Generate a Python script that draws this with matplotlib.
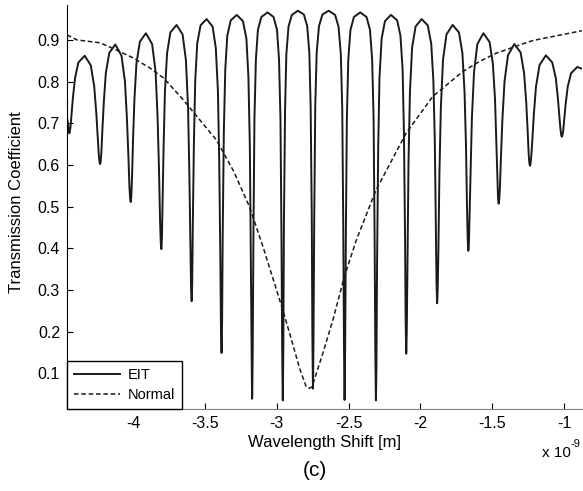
import matplotlib
matplotlib.use("Agg")
import matplotlib.pyplot as plt

# EIT transmission (x in units of 1e-9 m), one line per fringe
eit_x = [
    -4.459, -4.452,
    -4.444, -4.443, -4.440, -4.435, -4.428, -4.418, -4.403, -4.380, -4.336, -4.294, -4.270, -4.255, -4.245, -4.238, -4.233, -4.230,
    -4.229, -4.228, -4.225, -4.220, -4.213, -4.203, -4.189, -4.165, -4.123, -4.080, -4.056, -4.042, -4.032, -4.025, -4.020, -4.017,
    -4.016, -4.015, -4.012, -4.007, -4.000, -3.990, -3.976, -3.952, -3.910, -3.867, -3.843, -3.829, -3.819, -3.812, -3.807, -3.804,
    -3.803, -3.802, -3.799, -3.795, -3.787, -3.778, -3.763, -3.740, -3.697, -3.655, -3.632, -3.617, -3.608, -3.600, -3.596, -3.593,
    -3.592, -3.591, -3.588, -3.584, -3.576, -3.567, -3.553, -3.530, -3.488, -3.446, -3.424, -3.409, -3.400, -3.392, -3.388, -3.385,
    -3.384, -3.383, -3.380, -3.376, -3.368, -3.358, -3.344, -3.320, -3.278, -3.235, -3.211, -3.197, -3.187, -3.180, -3.175, -3.172,
    -3.171, -3.170, -3.167, -3.162, -3.155, -3.145, -3.131, -3.107, -3.064, -3.022, -2.998, -2.984, -2.974, -2.967, -2.962, -2.959,
    -2.958, -2.957, -2.954, -2.950, -2.942, -2.933, -2.918, -2.895, -2.853, -2.811, -2.788, -2.773, -2.764, -2.756, -2.752, -2.749,
    -2.748, -2.747, -2.744, -2.739, -2.732, -2.722, -2.706, -2.682, -2.638, -2.594, -2.570, -2.554, -2.544, -2.537, -2.532, -2.529,
    -2.528, -2.527, -2.524, -2.519, -2.512, -2.502, -2.487, -2.463, -2.419, -2.375, -2.351, -2.336, -2.326, -2.319, -2.314, -2.311,
    -2.310, -2.309, -2.306, -2.302, -2.294, -2.285, -2.270, -2.247, -2.205, -2.162, -2.139, -2.124, -2.115, -2.107, -2.103, -2.100,
    -2.099, -2.098, -2.095, -2.090, -2.083, -2.073, -2.058, -2.034, -1.992, -1.949, -1.925, -1.910, -1.900, -1.893, -1.888, -1.885,
    -1.884, -1.883, -1.880, -1.875, -1.868, -1.858, -1.843, -1.819, -1.776, -1.732, -1.708, -1.693, -1.683, -1.676, -1.671, -1.668,
    -1.667, -1.666, -1.663, -1.659, -1.651, -1.642, -1.627, -1.604, -1.562, -1.519, -1.496, -1.481, -1.472, -1.464, -1.460, -1.457,
    -1.456, -1.455, -1.452, -1.447, -1.440, -1.430, -1.415, -1.391, -1.347, -1.303, -1.279, -1.264, -1.254, -1.247, -1.242, -1.239,
    -1.238, -1.237, -1.234, -1.229, -1.221, -1.211, -1.196, -1.171, -1.127, -1.083, -1.058, -1.043, -1.033, -1.025, -1.020, -1.017,
    -1.016, -1.015, -1.012, -1.007, -1.000, -0.990, -0.975, -0.952, -0.909, -0.877,
]
eit_y = [
    0.715, 0.697,
    0.676, 0.676, 0.679, 0.691, 0.721, 0.762, 0.809, 0.846, 0.862, 0.839, 0.789, 0.722, 0.665, 0.623, 0.607, 0.603,
    0.602, 0.603, 0.608, 0.631, 0.685, 0.752, 0.821, 0.869, 0.889, 0.862, 0.800, 0.709, 0.620, 0.549, 0.519, 0.512,
    0.511, 0.512, 0.524, 0.567, 0.659, 0.758, 0.844, 0.896, 0.916, 0.890, 0.824, 0.714, 0.587, 0.469, 0.414, 0.400,
    0.398, 0.401, 0.423, 0.502, 0.647, 0.775, 0.868, 0.918, 0.936, 0.913, 0.852, 0.738, 0.580, 0.401, 0.303, 0.277,
    0.273, 0.278, 0.319, 0.455, 0.659, 0.803, 0.892, 0.935, 0.950, 0.932, 0.881, 0.776, 0.606, 0.364, 0.204, 0.155,
    0.149, 0.158, 0.227, 0.429, 0.681, 0.829, 0.910, 0.947, 0.960, 0.945, 0.903, 0.811, 0.643, 0.357, 0.127, 0.050,
    0.039, 0.054, 0.158, 0.431, 0.712, 0.853, 0.924, 0.955, 0.966, 0.955, 0.924, 0.853, 0.711, 0.429, 0.155, 0.050,
    0.035, 0.052, 0.166, 0.455, 0.733, 0.866, 0.932, 0.960, 0.970, 0.961, 0.933, 0.869, 0.740, 0.470, 0.190, 0.079,
    0.063, 0.079, 0.190, 0.470, 0.740, 0.869, 0.933, 0.961, 0.970, 0.960, 0.932, 0.866, 0.733, 0.455, 0.167, 0.053,
    0.036, 0.051, 0.155, 0.430, 0.711, 0.853, 0.924, 0.955, 0.966, 0.955, 0.924, 0.853, 0.711, 0.429, 0.155, 0.050,
    0.035, 0.046, 0.123, 0.354, 0.641, 0.810, 0.903, 0.945, 0.960, 0.947, 0.910, 0.828, 0.680, 0.427, 0.225, 0.156,
    0.147, 0.154, 0.202, 0.363, 0.605, 0.776, 0.881, 0.932, 0.950, 0.935, 0.891, 0.802, 0.657, 0.451, 0.315, 0.274,
    0.268, 0.272, 0.299, 0.397, 0.578, 0.737, 0.852, 0.913, 0.936, 0.918, 0.868, 0.774, 0.645, 0.499, 0.419, 0.397,
    0.394, 0.396, 0.410, 0.466, 0.585, 0.713, 0.823, 0.890, 0.916, 0.895, 0.843, 0.757, 0.657, 0.563, 0.520, 0.508,
    0.507, 0.508, 0.515, 0.545, 0.617, 0.707, 0.800, 0.863, 0.890, 0.870, 0.821, 0.751, 0.682, 0.627, 0.604, 0.599,
    0.598, 0.599, 0.603, 0.619, 0.662, 0.721, 0.788, 0.840, 0.863, 0.846, 0.808, 0.758, 0.715, 0.684, 0.671, 0.668,
    0.668, 0.668, 0.671, 0.681, 0.708, 0.745, 0.788, 0.820, 0.835, 0.831,
]

# normal (no EIT) transmission dip
normal_x = [-4.459, -4.39, -4.229, -4.13, -4.0, -3.88, -3.785, -3.65, -3.42, -3.3, -3.19, -3.095,
            -2.967, -2.91, -2.84, -2.794, -2.775, -2.755, -2.68, -2.61, -2.53, -2.447, -2.31, -2.1,
            -1.915, -1.706, -1.59, -1.474, -1.243, -1.197, -0.877]
normal_y = [0.912, 0.900, 0.893, 0.878, 0.857, 0.832, 0.808, 0.756, 0.660, 0.585, 0.500, 0.403,
            0.262, 0.196, 0.111, 0.067, 0.064, 0.067, 0.147, 0.227, 0.331, 0.419, 0.539, 0.676,
            0.764, 0.824, 0.848, 0.868, 0.896, 0.900, 0.922]

x_ticks = [-4, -3.5, -3, -2.5, -2, -1.5, -1]
x_tick_labels = ['-4', '-3.5', '-3', '-2.5', '-2', '-1.5', '-1']
y_ticks = [0.1, 0.2, 0.3, 0.4, 0.5, 0.6, 0.7, 0.8, 0.9]

plt.rcParams['font.family'] = ['Liberation Sans', 'DejaVu Sans']
fig = plt.figure(figsize=(5.83, 4.91), dpi=100)
ax = fig.add_axes([0.115, 0.167, 0.883, 0.823])

ax.plot(eit_x, eit_y, color='#1a1a1a', lw=1.4, label='EIT', solid_joinstyle='round')
ax.plot(normal_x, normal_y, color='#1a1a1a', lw=1.1, ls=(0, (3, 1.8)), label='Normal')

ax.set_xlim(-4.459, -0.877)
ax.set_ylim(0.0143, 0.984)
ax.set_xticks(x_ticks)
ax.set_xticklabels(x_tick_labels)
ax.set_yticks(y_ticks)
ax.spines['top'].set_visible(False)
ax.spines['right'].set_visible(False)
ax.spines['bottom'].set_color('#808080')
ax.tick_params(direction='in', length=4, labelsize=11.5, pad=5)

ax.set_xlabel('Wavelength Shift [m]', fontsize=12, labelpad=3)
ax.set_ylabel('Transmission Coefficient', fontsize=12)
ax.yaxis.set_label_coords(-0.083, 0.512)

fig.text(0.929, 0.07, 'x 10', fontsize=11, ha='left')
fig.text(0.979, 0.089, '-9', fontsize=8, ha='left')
fig.text(0.54, 0.03, '(c)', fontsize=15, ha='center')

leg = ax.legend(loc='lower left', bbox_to_anchor=(0, 0), borderaxespad=0, fancybox=False,
                edgecolor='black', fontsize=10.5, handlelength=3.2, handletextpad=0.5,
                labelspacing=0.45, borderpad=0.45, framealpha=1)
leg.get_frame().set_linewidth(1.0)

fig.savefig('out.png', dpi=100)
